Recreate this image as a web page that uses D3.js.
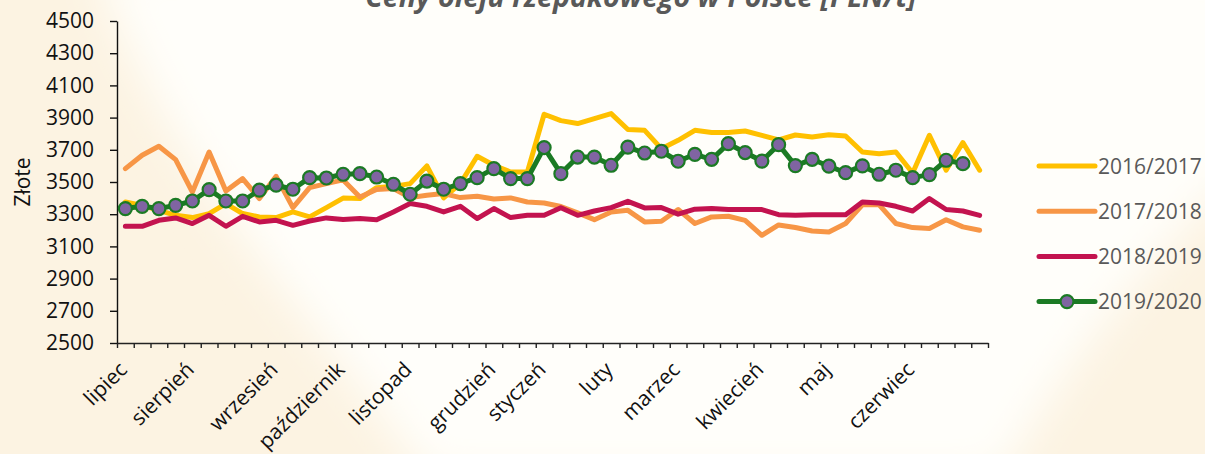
<!DOCTYPE html>
<html>
<head>
<meta charset="utf-8">
<script src="https://cdn.jsdelivr.net/npm/d3@7"></script>
<style>
  html, body { margin: 0; padding: 0; }
  svg { display: block; font-family: "Open Sans", sans-serif; }
</style>
</head>
<body>
<svg id="chart" width="1205" height="454"></svg>
<script>
// weekly prices, July..June (52 weeks per season)
const weeks = d3.range(52);
const monthLabels = ['lipiec', 'sierpień', 'wrzesień', 'październik', 'listopad', 'grudzień',
  'styczeń', 'luty', 'marzec', 'kwiecień', 'maj', 'czerwiec'];
const monthWeek = [0, 4, 9, 13, 17, 22, 25, 29, 33, 38, 42, 47];
const yTicks = [2500, 2700, 2900, 3100, 3300, 3500, 3700, 3900, 4100, 4300, 4500];

const s2016 = [3376, 3355, 3324, 3293, 3279, 3304, 3366, 3304, 3283, 3279, 3314, 3283, 3341,
  3400, 3397, 3465, 3473, 3490, 3600, 3401, 3490, 3660, 3604, 3562, 3562, 3921, 3881,
  3863, 3894, 3925, 3826, 3821, 3707, 3759, 3821, 3807, 3807, 3817, 3790, 3762, 3792,
  3780, 3794, 3786, 3686, 3676, 3686, 3556, 3790, 3573, 3745, 3573];
const s2017 = [3583, 3666, 3722, 3639, 3438, 3686, 3444, 3521, 3397, 3535, 3341, 3465, 3490,
  3513, 3407, 3453, 3459, 3403, 3418, 3428, 3403, 3411, 3394, 3401, 3376, 3370, 3348,
  3308, 3266, 3314, 3324, 3252, 3256, 3329, 3242, 3283, 3287, 3262, 3169, 3233, 3217,
  3196, 3190, 3242, 3358, 3358, 3242, 3217, 3211, 3266, 3221, 3200];
const s2018 = [3225, 3225, 3262, 3277, 3242, 3293, 3225, 3287, 3252, 3262, 3231, 3258, 3277,
  3267, 3273, 3266, 3314, 3366, 3349, 3314, 3349, 3273, 3335, 3279, 3293, 3293, 3340,
  3293, 3320, 3341, 3380, 3339, 3341, 3300, 3331, 3335, 3329, 3329, 3329, 3297, 3293,
  3297, 3297, 3297, 3376, 3370, 3349, 3320, 3397, 3329, 3320, 3293];
const s2019 = [3335, 3349, 3335, 3355, 3382, 3453, 3382, 3382, 3449, 3480, 3455, 3527, 3525,
  3548, 3552, 3531, 3486, 3424, 3506, 3455, 3490, 3527, 3583, 3521, 3521, 3714, 3552,
  3655, 3655, 3604, 3717, 3680, 3691, 3629, 3672, 3641, 3738, 3683, 3630, 3732, 3602,
  3641, 3598, 3558, 3600, 3548, 3573, 3527, 3546, 3635, 3614];

const seriesNames = ['2016/2017', '2017/2018', '2018/2019', '2019/2020'];
const seriesColors = ['#ffc000', '#f79646', '#c3134f', '#1b7a24'];
const seriesValues = [s2016, s2017, s2018, s2019];

const svg = d3.select('#chart');
const W = 1205, H = 454;
const plot = { left: 117, right: 988, top: 21, bottom: 343 };

// background: beige with a soft white swoosh
const defs = svg.append('defs');
defs.append('filter').attr('id', 'blur')
  .attr('x', '-20%').attr('y', '-20%').attr('width', '140%').attr('height', '140%')
  .append('feGaussianBlur').attr('stdDeviation', 22);
svg.append('rect').attr('width', W).attr('height', H).attr('fill', '#fcf3e2');
svg.append('path')
  .attr('d', 'M95,-40 L1250,-40 L1250,160 C1160,250 1080,340 1000,480 L430,480 C300,300 160,160 95,-40 Z')
  .attr('fill', '#fffefa')
  .attr('filter', 'url(#blur)');

const x = d3.scaleBand().domain(weeks).range([plot.left, plot.right]).padding(0);
const xBound = d3.scaleLinear().domain([0, weeks.length]).range([plot.left, plot.right]);
const y = d3.scaleLinear().domain([2500, 4500]).range([plot.bottom, plot.top]);
const cx = i => x(i) + x.bandwidth() / 2;

// title (cut off at the top, as in the source)
svg.append('text')
  .attr('x', 641).attr('y', 7)
  .attr('text-anchor', 'middle')
  .attr('font-size', 28.5).attr('font-weight', 700).attr('font-style', 'italic')
  .attr('fill', '#595959')
  .text('Ceny oleju rzepakowego w Polsce [PLN/t]');

// y axis
const yAxis = svg.append('g')
  .attr('transform', `translate(${plot.left},0)`)
  .call(d3.axisLeft(y).tickValues(yTicks).tickFormat(d3.format('d'))
    .tickSize(7).tickSizeOuter(0).tickPadding(16));
yAxis.attr('font-size', 21).attr('font-family', 'Open Sans');
yAxis.selectAll('text').attr('fill', '#111');
yAxis.selectAll('line, path').attr('stroke', '#111').attr('stroke-width', 1.4);

svg.append('text')
  .attr('transform', 'translate(30,182) rotate(-90)')
  .attr('text-anchor', 'middle')
  .attr('font-size', 21).attr('fill', '#111')
  .text('Złote');

// x axis: ticks on week boundaries, month names under the first week of each month
const xAxis = svg.append('g')
  .attr('transform', `translate(0,${plot.bottom})`)
  .call(d3.axisBottom(xBound).tickValues(d3.range(weeks.length + 1)).tickFormat('').tickSize(5).tickSizeOuter(0));
xAxis.selectAll('line, path').attr('stroke', '#222').attr('stroke-width', 1.4);

svg.append('g').selectAll('text')
  .data(monthWeek)
  .join('text')
  .attr('transform', d => `translate(${cx(d) + 3},${plot.bottom + 28}) rotate(-45)`)
  .attr('text-anchor', 'end')
  .attr('font-size', 21).attr('fill', '#111')
  .text((d, i) => monthLabels[i]);

// lines
const line = d3.line().x((d, i) => cx(i)).y(d => y(d));
svg.append('g').selectAll('path')
  .data(seriesValues)
  .join('path')
  .attr('d', line)
  .attr('fill', 'none')
  .attr('stroke', (d, i) => seriesColors[i])
  .attr('stroke-width', 5)
  .attr('stroke-linejoin', 'round')
  .attr('stroke-linecap', 'round');

svg.append('g').selectAll('circle')
  .data(s2019)
  .join('circle')
  .attr('cx', (d, i) => cx(i))
  .attr('cy', d => y(d))
  .attr('r', 6.5)
  .attr('fill', '#8064a2')
  .attr('stroke', '#1b7a24')
  .attr('stroke-width', 2.2);

// legend
const legend = svg.append('g').selectAll('g')
  .data(seriesNames)
  .join('g')
  .attr('transform', (d, i) => `translate(1039,${166 + i * 45.2})`);
legend.append('line')
  .attr('x1', 0).attr('x2', 56)
  .attr('stroke', (d, i) => seriesColors[i])
  .attr('stroke-width', 5)
  .attr('stroke-linecap', 'round');
legend.filter((d, i) => i === 3).append('circle')
  .attr('cx', 28).attr('r', 6.5)
  .attr('fill', '#8064a2').attr('stroke', '#1b7a24').attr('stroke-width', 2.2);
legend.append('text')
  .attr('x', 59).attr('dy', '0.36em')
  .attr('font-size', 21).attr('fill', '#595959')
  .text(d => d);
</script>
</body>
</html>
